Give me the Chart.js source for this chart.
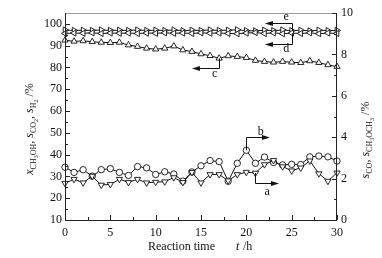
<!DOCTYPE html>
<html><head><meta charset="utf-8">
<script src="https://cdn.jsdelivr.net/npm/chart.js@4"></script>
<style>html,body{margin:0;padding:0;background:#fff}</style>
</head><body>
<canvas id="c" width="382" height="258" style="width:382px;height:258px;display:block"></canvas>
<script>
// ---- data ----
const hours = [0,1,2,3,4,5,6,7,8,9,10,11,12,13,14,15,16,17,18,19,20,21,22,23,24,25,26,27,28,29,30];
// right axis (s_CO, s_CH3OCH3 /%)
const seriesA = [1.78,1.97,1.80,2.12,1.69,1.72,1.97,1.82,1.97,1.80,1.83,1.85,2.05,1.82,2.30,1.80,2.20,2.20,1.90,2.20,2.31,2.27,2.68,2.88,2.58,2.38,2.52,2.86,2.24,1.88,2.28];
const seriesB = [2.55,2.30,2.43,2.12,2.43,2.48,2.30,2.15,2.58,2.52,2.20,2.33,2.22,1.88,2.32,2.62,2.87,2.82,1.87,2.74,3.37,2.74,3.04,2.78,2.66,2.69,2.68,3.05,3.09,3.05,2.85];
// left axis (x_CH3OH, s_CO2, s_H2 /%)
const seriesC = [92.5,92.0,92.2,91.8,91.5,91.4,91.5,90.3,89.6,88.8,88.4,88.8,89.8,88.0,87.3,86.2,85.4,84.2,85.3,85.0,84.5,83.2,82.7,82.4,82.7,82.4,82.2,83.0,82.2,81.2,80.4];
const seriesD = [95.6,95.8,95.7,95.9,95.6,95.8,95.7,95.8,95.6,95.8,95.7,95.9,95.7,95.8,95.6,95.9,95.7,95.8,95.6,95.5,95.8,96.0,95.6,95.9,95.5,95.8,95.6,95.9,95.5,95.8,95.6];
const seriesE = [97.2,97.0,97.1,97.0,97.2,97.0,97.1,97.0,97.2,97.0,97.1,97.0,97.2,96.9,97.1,97.0,97.2,97.0,97.1,97.3,96.9,96.8,97.1,96.9,97.2,96.9,97.1,96.8,97.1,96.9,97.0];
// ticks
const xTicks = [0,5,10,15,20,25,30];
const xMinor = [2.5,7.5,12.5,17.5,22.5,27.5];
const leftTicks = [10,20,30,40,50,60,70,80,90,100];
const leftMinor = [15,25,35,45,55,65,75,85,95];
const rightTicks = [0,2,4,6,8,10];
const rightMinor = [1,3,5,7,9];
// annotation arrows (data coordinates)
const annotations = [
  {label:'b', axis:'y2', x0:20, y0:3.37, yBar:4.0, x1:22.6, lx:21.6, ly:4.28},
  {label:'a', axis:'y2', x0:21, y0:2.27, yBar:1.8, x1:23.6, lx:22.3, ly:1.37},
  {label:'c', axis:'y',  x0:17, y0:84.2, yBar:79.7, x1:14.0, lx:16.5, ly:77.0},
  {label:'e', axis:'y',  x0:25, y0:97.0, yBar:100.6, x1:22.05, lx:24.4, ly:103.4},
  {label:'d', axis:'y',  x0:25, y0:95.7, yBar:90.8, x1:22.05, lx:24.4, ly:88.4}
];

const FONT = "'Liberation Serif', 'DejaVu Serif', serif";
const pts = arr => hours.map((h,i)=>({x:h, y:arr[i]}));

function ds(label, arr, axis, style, rot){
  return {label, data:pts(arr), yAxisID:axis, borderColor:'#111', borderWidth:1,
    pointStyle:style, pointRotation:rot, pointRadius:(style==='circle'?3.2:3.6),
    pointBackgroundColor:'#fff', pointBorderColor:'#111', pointBorderWidth:0.9,
    tension:0, clip:false, fill:false};
}

function fontFor(s){
  if(s.k==='i') return "italic 12px "+FONT;
  if(s.k==='s') return "8px "+FONT;
  if(s.k==='ss') return "6px "+FONT;
  return "12px "+FONT;
}
function dyFor(s){ return s.k==='s'?3:(s.k==='ss'?5:0); }
function drawRich(ctx, segs, x, y, rot){
  ctx.save(); ctx.translate(x,y); ctx.rotate(rot);
  ctx.textBaseline='alphabetic'; ctx.textAlign='left'; ctx.fillStyle='#111';
  let total=0;
  segs.forEach(s=>{ctx.font=fontFor(s); s.w=ctx.measureText(s.t).width; total+=s.w;});
  let cx=-total/2;
  segs.forEach(s=>{ctx.font=fontFor(s); ctx.fillText(s.t,cx,dyFor(s)); cx+=s.w;});
  ctx.restore();
}
const leftTitle = [{t:'x',k:'i'},{t:'CH',k:'s'},{t:'3',k:'ss'},{t:'OH',k:'s'},{t:', ',k:'n'},
  {t:'s',k:'i'},{t:'CO',k:'s'},{t:'2',k:'ss'},{t:', ',k:'n'},{t:'s',k:'i'},{t:'H',k:'s'},{t:'2',k:'ss'},{t:' /%',k:'n'}];
const rightTitle = [{t:'s',k:'i'},{t:'CO',k:'s'},{t:', ',k:'n'},{t:'s',k:'i'},{t:'CH',k:'s'},{t:'3',k:'ss'},
  {t:'OCH',k:'s'},{t:'3',k:'ss'},{t:' /%',k:'n'}];

const decor = {
  id:'decor',
  afterDatasetsDraw(chart){
    const ctx=chart.ctx, a=chart.chartArea, sx=chart.scales.x, sy=chart.scales.y, sy2=chart.scales.y2;
    ctx.save();
    // frame
    ctx.lineWidth=1;
    ctx.strokeStyle='#999';
    ctx.beginPath(); ctx.moveTo(a.left,a.top+0.5); ctx.lineTo(a.right,a.top+0.5); ctx.stroke();
    ctx.strokeStyle='#222';
    ctx.beginPath();
    ctx.moveTo(a.left+0.5,a.top); ctx.lineTo(a.left+0.5,a.bottom+0.5); ctx.lineTo(a.right-0.5,a.bottom+0.5); ctx.lineTo(a.right-0.5,a.top);
    ctx.stroke();
    // inward ticks
    ctx.beginPath();
    xTicks.forEach(v=>{const p=Math.round(sx.getPixelForValue(v))+0.5; ctx.moveTo(p,a.bottom); ctx.lineTo(p,a.bottom-5);});
    xMinor.forEach(v=>{const p=Math.round(sx.getPixelForValue(v))+0.5; ctx.moveTo(p,a.bottom); ctx.lineTo(p,a.bottom-3);});
    leftTicks.forEach(v=>{const p=Math.round(sy.getPixelForValue(v))+0.5; ctx.moveTo(a.left,p); ctx.lineTo(a.left+5,p);});
    leftMinor.forEach(v=>{const p=Math.round(sy.getPixelForValue(v))+0.5; ctx.moveTo(a.left,p); ctx.lineTo(a.left+3,p);});
    rightTicks.forEach(v=>{const p=Math.round(sy2.getPixelForValue(v))+0.5; ctx.moveTo(a.right,p); ctx.lineTo(a.right-5,p);});
    rightMinor.forEach(v=>{const p=Math.round(sy2.getPixelForValue(v))+0.5; ctx.moveTo(a.right,p); ctx.lineTo(a.right-3,p);});
    ctx.stroke();
    // annotation arrows
    ctx.strokeStyle='#111'; ctx.fillStyle='#111'; ctx.lineWidth=1;
    annotations.forEach(n=>{
      const ys=chart.scales[n.axis];
      const x0=Math.round(sx.getPixelForValue(n.x0))+0.5, y0=ys.getPixelForValue(n.y0);
      const yb=Math.round(ys.getPixelForValue(n.yBar))+0.5, x1=sx.getPixelForValue(n.x1);
      const dir = x1>x0?1:-1;
      ctx.beginPath(); ctx.moveTo(x0,y0); ctx.lineTo(x0,yb); ctx.lineTo(x1-dir*7,yb); ctx.stroke();
      ctx.beginPath(); ctx.moveTo(x1,yb); ctx.lineTo(x1-dir*8,yb-2.5); ctx.lineTo(x1-dir*8,yb+2.5); ctx.closePath(); ctx.fill();
      ctx.font="12px "+FONT; ctx.textAlign='center'; ctx.textBaseline='middle';
      ctx.fillText(n.label, sx.getPixelForValue(n.lx), ys.getPixelForValue(n.ly));
    });
    // titles
    drawRich(ctx, leftTitle, 33, 129, -Math.PI/2);
    drawRich(ctx, rightTitle, 369, 140, -Math.PI/2);
    ctx.font="12px "+FONT; ctx.textAlign='left'; ctx.textBaseline='alphabetic'; ctx.fillStyle='#111';
    ctx.fillText('Reaction time', 148, 250);
    ctx.font="italic 12px "+FONT; ctx.fillText('t', 236, 250);
    ctx.font="12px "+FONT; ctx.fillText(' /h', 240, 250);
    ctx.restore();
  }
};

const tickFont = {family:FONT, size:12};
const gridOff = {display:false, drawTicks:false, drawOnChartArea:false, tickLength:0};
new Chart(document.getElementById('c'), {
  type:'line',
  data:{datasets:[
    ds('a', seriesA, 'y2', 'triangle', 180),
    ds('b', seriesB, 'y2', 'circle', 0),
    ds('c', seriesC, 'y', 'triangle', 0),
    ds('d', seriesD, 'y', 'triangle', -90),
    ds('e', seriesE, 'y', 'triangle', 90)
  ]},
  options:{
    responsive:false, animation:false, devicePixelRatio:1,
    layout:{padding:{top:13,left:0,right:0,bottom:0}},
    plugins:{legend:{display:false}, tooltip:{enabled:false}},
    scales:{
      x:{type:'linear', position:'bottom', min:0, max:30,
        grid:gridOff, border:{display:false},
        afterBuildTicks:s=>{s.ticks=xTicks.map(v=>({value:v}));},
        afterFit:s=>{s.height=38;},
        ticks:{font:tickFont, color:'#111', padding:6, maxRotation:0, autoSkip:false}},
      y:{type:'linear', position:'left', min:10, max:105,
        grid:gridOff, border:{display:false},
        afterBuildTicks:s=>{s.ticks=leftTicks.map(v=>({value:v}));},
        afterFit:s=>{s.width=65;},
        ticks:{font:tickFont, color:'#111', padding:3}},
      y2:{type:'linear', position:'right', min:0, max:10,
        grid:gridOff, border:{display:false},
        afterBuildTicks:s=>{s.ticks=rightTicks.map(v=>({value:v}));},
        afterFit:s=>{s.width=45;},
        ticks:{font:tickFont, color:'#111', padding:4}}
    }
  },
  plugins:[decor]
});
</script>
</body></html>
